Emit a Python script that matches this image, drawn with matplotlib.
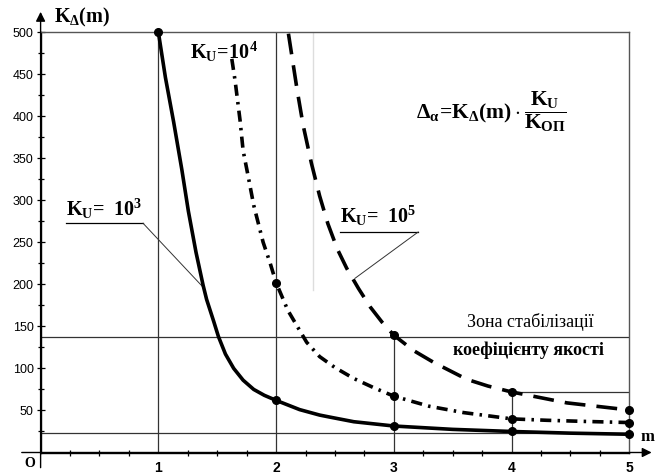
import matplotlib
matplotlib.use("Agg")
import matplotlib.pyplot as plt
import numpy as np

plt.rcParams['mathtext.fontset'] = 'custom'
plt.rcParams['mathtext.rm'] = 'Liberation Serif:bold'
plt.rcParams['mathtext.it'] = 'Liberation Serif:bold'
plt.rcParams['mathtext.bf'] = 'Liberation Serif:bold'
plt.rcParams['lines.scale_dashes'] = False

# ---- data ----
m_ku3 = [1.0, 1.06, 1.13, 1.2, 1.255, 1.32, 1.38, 1.41, 1.47, 1.51, 1.57, 1.64, 1.72, 1.81, 1.9, 2.0,
         2.2, 2.37, 2.46, 2.66, 3.0, 3.5, 4.0, 4.5, 5.0]
v_ku3 = [500, 446, 393, 336, 287, 238, 199, 182, 156, 138, 117, 100, 86, 75, 68, 62,
         51, 44.5, 42, 36.6, 31.5, 27.5, 25, 23, 21.7]

m_ku4 = [1.624, 1.652, 1.694, 1.72, 1.765, 1.81, 1.89, 1.95, 2.0, 2.1, 2.26, 2.37, 2.5, 2.66, 2.83,
         3.0, 3.3, 3.59, 4.0, 4.3, 4.61, 5.0]
v_ku4 = [468, 442, 395, 359, 327, 294, 250, 225, 202, 169, 131, 114, 101, 88, 77,
         67, 55, 47.5, 40, 38.3, 37, 35.6]

m_ku5 = [2.105, 2.18, 2.23, 2.30, 2.37, 2.44, 2.52, 2.60, 2.70, 2.80, 2.90, 3.0, 3.17, 3.34, 3.62,
         3.8, 4.0, 4.47, 5.0]
v_ku5 = [498, 430, 389, 344, 305, 272, 242, 219, 195, 173, 155, 139.5, 121, 107, 87,
         79, 72, 59, 50.5]

int_m = [1, 2, 3, 4, 5]
y_ticks_major = [50, 100, 150, 200, 250, 300, 350, 400, 450, 500]
x_ticks_major = [1, 2, 3, 4, 5]

zone_top = 137.5
zone_bottom = 22.7
k5_level4 = 72

fig = plt.figure(figsize=(6.56, 4.74), dpi=100)
ax = fig.add_axes([40.6 / 656, (474 - 452.5) / 474, 588.7 / 656, 420.5 / 474])
ax.set_xlim(0, 5)
ax.set_ylim(0, 500)

for s in ['top', 'right']:
    ax.spines[s].set_color('#555555')
    ax.spines[s].set_linewidth(1.0)
for s in ['left', 'bottom']:
    ax.spines[s].set_color('black')
    ax.spines[s].set_linewidth(1.0)

# ticks
ax.set_xticks(x_ticks_major)
ax.set_xticklabels([str(v) for v in x_ticks_major], fontfamily='Liberation Sans',
                   fontweight='bold', fontsize=10)
ax.set_xticks(np.arange(0.25, 5.0, 0.25), minor=True)
ax.set_yticks(y_ticks_major)
ax.set_yticklabels([str(v) for v in y_ticks_major], fontfamily='Liberation Sans', fontsize=9)
ax.set_yticks(np.arange(25, 500, 25), minor=True)
ax.tick_params(axis='both', which='both', direction='inout', color='black', width=0.9)
ax.tick_params(axis='x', which='major', length=0, pad=6)
ax.tick_params(axis='x', which='minor', length=5)
ax.tick_params(axis='y', which='major', length=6, pad=2)
ax.tick_params(axis='y', which='minor', length=5)

gl = dict(color='#333333', lw=0.9, zorder=1)
# reference lines
ax.plot([0, 5], [zone_top, zone_top], **gl)
ax.plot([0, 5], [zone_bottom, zone_bottom], **gl)
ax.plot([4, 5], [k5_level4, k5_level4], **gl)
ax.plot([1, 1], [0, 500], **gl)
ax.plot([2, 2], [0, 500], **gl)
ax.plot([3, 3], [0, zone_top], **gl)
ax.plot([4, 4], [0, k5_level4], **gl)
ax.plot([2.31, 2.31], [193, 500], color='#dddddd', lw=1.0, zorder=1)

# axis extensions + arrows
ax.annotate('', xy=(0, 524), xytext=(0, -18), xycoords='data',
            arrowprops=dict(arrowstyle='-|>', lw=1.0, color='black', mutation_scale=14,
                            shrinkA=0, shrinkB=0), annotation_clip=False)
ax.annotate('', xy=(5.19, 0), xytext=(-0.16, 0), xycoords='data',
            arrowprops=dict(arrowstyle='-|>', lw=1.0, color='black', mutation_scale=14,
                            shrinkA=0, shrinkB=0), annotation_clip=False)

# curves
ax.plot(m_ku3, v_ku3, color='black', lw=2.6, solid_capstyle='round', solid_joinstyle='round', zorder=3)
ax.plot(m_ku4, v_ku4, color='black', lw=2.6, linestyle=(0, (8, 4.5, 1.8, 4.5)), zorder=3)
ax.plot(m_ku5, v_ku5, color='black', lw=2.6, linestyle=(0, (15, 8)), zorder=3)

# markers at integer m
for ms, vs in [(m_ku3, v_ku3), (m_ku4, v_ku4), (m_ku5, v_ku5)]:
    pts = [(a, b) for a, b in zip(ms, vs) if a in int_m]
    ax.plot([p[0] for p in pts], [p[1] for p in pts], 'o', color='black', ms=5.5,
            zorder=4, clip_on=False)

# labels
ax.text(0.216, 282, r'$K_U\!=\ 10^3$', fontsize=14.5, ha='left', va='baseline', zorder=5)
ax.plot([0.216, 0.87], [272.6, 272.6], color='black', lw=0.9)
ax.plot([0.87, 1.38], [272.6, 196.6], color='#333333', lw=0.7)

ax.text(1.27, 468, r'$K_U\!=\!10^4$', fontsize=14.5, ha='left', va='baseline', zorder=5)

ax.text(2.544, 273, r'$K_U\!=\ 10^5$', fontsize=14.5, ha='left', va='baseline', zorder=5)
ax.plot([2.544, 3.207], [262.2, 262.2], color='black', lw=0.9)
ax.plot([3.207, 2.671], [262.2, 207.2], color='#333333', lw=0.7)

ax.text(3.19, 405, r'$\Delta_{\alpha}\!=\!K_{\Delta}(m)\cdot\dfrac{K_U}{K_{ОП}}$', fontsize=15.5,
        ha='left', va='center')

ax.text(4.16, 155, 'Зона стабілізації', fontsize=13, family='Liberation Serif',
        ha='center', va='center')
ax.text(4.14, 121.7, 'коефіцієнту якості', fontsize=13, family='Liberation Serif',
        fontweight='bold', ha='center', va='center')

ax.text(0.11, 517, r'$K_{\Delta}(m)$', fontsize=14.5, ha='left', va='center', clip_on=False)
ax.text(-0.09, -12.5, 'O', fontsize=10, family='Liberation Serif', fontweight='bold',
        ha='center', va='center', clip_on=False)
ax.text(5.215, 18, 'm', fontsize=12, family='Liberation Serif', fontweight='bold',
        ha='right', va='center', clip_on=False)

fig.savefig('out.png', dpi=100)
